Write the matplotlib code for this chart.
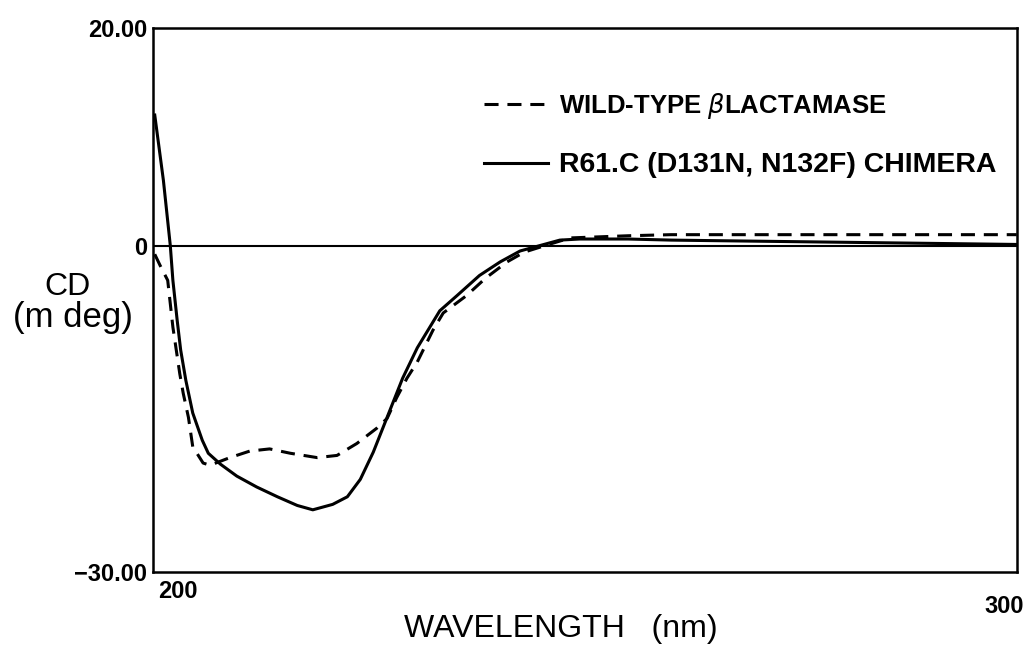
import matplotlib
matplotlib.use("Agg")
import matplotlib.pyplot as plt
from matplotlib import font_manager

# ---- data ----
wl_solid = [200.2, 201.2, 202.0, 202.3, 202.8, 203.2, 203.8, 204.6, 205.7, 206.4,
            207.8, 209.7, 212.0, 214.4, 216.7, 218.5, 220.8, 222.5, 224.0, 225.5,
            226.6, 227.8, 228.9, 230.6, 233.2, 235.2, 237.8, 240.2, 242.5, 244.8,
            247.1, 249.4, 255, 260, 270, 280, 290, 300]
cd_solid = [12.0, 6.0, 0.0, -3.2, -6.9, -9.6, -12.4, -15.4, -17.9, -19.1,
            -20.1, -21.2, -22.2, -23.1, -23.9, -24.3, -23.8, -23.1, -21.5, -19.0,
            -16.8, -14.4, -12.2, -9.4, -6.0, -4.6, -2.75, -1.5, -0.5, 0.0,
            0.5, 0.6, 0.6, 0.5, 0.4, 0.3, 0.2, 0.1]

wl_dash = [200.2, 200.8, 201.7, 202.3, 203.1, 203.5, 204.1, 204.6, 205.8, 206.6,
           208.9, 211.2, 213.5, 215.9, 219.0, 221.3, 223.6, 225.9, 227.1, 228.2,
           229.4, 230.6, 232.4, 233.6, 236.3, 238.5, 241.0, 243.0, 245.4, 248.3,
           255, 260, 270, 280, 290, 300]
cd_dash = [-0.8, -1.8, -3.2, -7.5, -11.8, -13.6, -15.8, -18.5, -20.0, -20.2,
           -19.5, -18.9, -18.7, -19.1, -19.5, -19.3, -18.2, -16.8, -15.9, -14.0,
           -12.2, -10.7, -7.8, -6.2, -4.6, -3.0, -1.5, -0.6, 0.0, 0.7,
           0.9, 1.0, 1.0, 1.0, 1.0, 1.0]

legend_labels = ["WILD-TYPE $\\beta$LACTAMASE", "R61.C (D131N, N132F) CHIMERA"]
ytick_vals = [20, 0, -30]
ytick_labels = ["20.00", "0", "\u221230.00"]
xtick_vals = [200, 300]
xtick_labels = ["200", "300"]

names = {f.name for f in font_manager.fontManager.ttflist}
narrow = "Liberation Sans Narrow" if "Liberation Sans Narrow" in names else "Liberation Sans"
plt.rcParams['font.family'] = [narrow, 'DejaVu Sans']
plt.rcParams['mathtext.fontset'] = 'dejavusans'

fig = plt.figure(figsize=(10.27, 6.52), dpi=100)
ax = fig.add_axes([0.149, 0.123, 0.841, 0.834])

ax.plot(wl_dash, cd_dash, color='black', lw=2.2, linestyle=(0, (4.6, 2.9)),
        label=legend_labels[0])
ax.plot(wl_solid, cd_solid, color='black', lw=2.2, label=legend_labels[1])
ax.axhline(0, color='black', lw=1.5)

ax.set_xlim(200, 300)
ax.set_ylim(-30, 20)
for s in ax.spines.values():
    s.set_linewidth(1.8)

ax.set_yticks(ytick_vals)
ax.set_yticklabels(ytick_labels, fontsize=17, fontweight='bold')
ax.tick_params(axis='y', length=0, pad=4)
ax.set_xticks([])

# x tick labels placed under the axis
ax.annotate(xtick_labels[0], xy=(xtick_vals[0], 0), xycoords=('data', 'axes fraction'),
            xytext=(18, -6), textcoords='offset points', ha='center', va='top',
            fontsize=17, fontweight='bold')
ax.annotate(xtick_labels[1], xy=(xtick_vals[1], 0), xycoords=('data', 'axes fraction'),
            xytext=(5, -17), textcoords='offset points', ha='right', va='top',
            fontsize=17, fontweight='bold')

fig.text(0.546, 0.035, "WAVELENGTH   (nm)", ha='center', va='center', fontsize=23)
fig.text(0.066, 1 - 287 / 652, "CD", ha='center', va='center', fontsize=23,
         family=['Liberation Sans', 'DejaVu Sans'])
fig.text(0.071, 1 - 317 / 652, "(m deg)", ha='center', va='center', fontsize=25,
         family=['Liberation Sans', 'DejaVu Sans'])

leg = ax.legend(loc='upper left', bbox_to_anchor=(0.3565, 0.926), frameon=False,
                fontsize=18.5, handlelength=2.5, handletextpad=0.4, labelspacing=1.2)
texts = leg.get_texts()
for t in texts:
    t.set_fontweight('bold')
texts[1].set_fontsize(20.5)

fig.savefig("out.png", dpi=100)
